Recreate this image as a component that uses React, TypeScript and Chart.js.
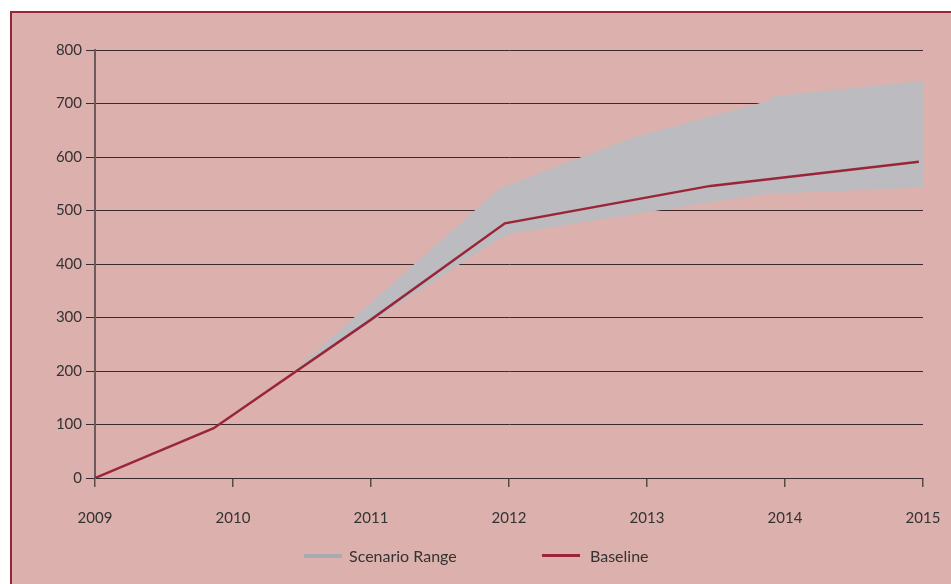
import React, { useEffect, useRef } from 'react';
import { Chart, registerables } from 'chart.js';

Chart.register(...registerables);

const xTickYears = [2009, 2010, 2011, 2012, 2013, 2014, 2015];
const yTickValues = [0, 100, 200, 300, 400, 500, 600, 700, 800];

const baselineYears = [2009, 2009.86, 2011, 2011.97, 2013.46, 2014.97];
const baselineValues = [0, 93, 296, 476, 546, 591];

const rangeYears = [2010.38, 2011.93, 2012.02, 2012.88, 2013.88, 2013.93, 2015.01];
const rangeHigh = [186, 541, 550, 635, 705, 714, 743];
const rangeLow = [186, 448, 457, 492, 532, 532, 543];

const legendLabels = ['Scenario Range', 'Baseline'];

const FONT = 'Lato, "Noto Sans", sans-serif';
const PINK = '#dcb0ac';
const GRAY = '#bcbcc0';
const CRIMSON = '#9b2538';

export default function App() {
  const ref = useRef<HTMLCanvasElement | null>(null);

  useEffect(() => {
    if (!ref.current) return;
    const chart = new Chart(ref.current, {
      type: 'line',
      data: {
        datasets: [
          {
            label: 'low',
            order: 2,
            data: rangeYears.map((x, i) => ({ x, y: rangeLow[i] })),
            borderWidth: 0,
            pointRadius: 0,
            fill: false,
            borderColor: 'rgba(0,0,0,0)',
          },
          {
            label: legendLabels[0],
            order: 1,
            data: rangeYears.map((x, i) => ({ x, y: rangeHigh[i] })),
            borderWidth: 0,
            pointRadius: 0,
            fill: '-1',
            backgroundColor: GRAY,
            borderColor: 'rgba(0,0,0,0)',
          },
          {
            label: legendLabels[1],
            order: 0,
            data: baselineYears.map((x, i) => ({ x, y: baselineValues[i] })),
            borderWidth: 2.5,
            pointRadius: 0,
            fill: false,
            borderColor: CRIMSON,
          },
        ],
      },
      options: {
        animation: false,
        responsive: false,
        maintainAspectRatio: false,
        layout: { padding: { left: 0, right: 28, top: 50, bottom: 0 } },
        plugins: { legend: { display: false }, tooltip: { enabled: false } },
        scales: {
          x: {
            type: 'linear',
            min: 2009,
            max: 2015,
            afterBuildTicks: (s: any) => {
              s.ticks = xTickYears.map((v) => ({ value: v }));
            },
            afterFit: (s: any) => {
              s.height = 106;
              s.paddingLeft = 0;
              s.paddingRight = 0;
            },
            grid: {
              drawOnChartArea: false,
              drawTicks: true,
              tickLength: 9,
              color: '#5c4848',
              lineWidth: 1.5,
            },
            border: { display: true, color: '#3a2c2c', width: 1 },
            ticks: {
              padding: 22,
              color: '#333',
              font: { family: FONT, size: 15 },
              callback: (v: any) => String(v),
              maxRotation: 0,
              autoSkip: false,
            },
          },
          y: {
            type: 'linear',
            min: 0,
            max: 800,
            afterBuildTicks: (s: any) => {
              s.ticks = yTickValues.map((v) => ({ value: v }));
            },
            afterFit: (s: any) => {
              s.width = 95;
              s.paddingTop = 0;
              s.paddingBottom = 0;
            },
            grid: {
              drawTicks: true,
              tickLength: 9,
              color: '#3a2c2c',
              lineWidth: 1,
            },
            border: { display: true, color: '#6e5a5a', width: 2 },
            ticks: {
              padding: 4,
              color: '#333',
              font: { family: FONT, size: 15 },
            },
          },
        },
      },
    });
    return () => chart.destroy();
  }, []);

  const legendText: React.CSSProperties = {
    position: 'absolute',
    top: 546,
    fontFamily: FONT,
    fontSize: 16,
    color: '#333',
    lineHeight: '20px',
    whiteSpace: 'nowrap',
  };

  return (
    <div style={{ position: 'absolute', left: 0, top: 0, width: 951, height: 584, overflow: 'hidden', background: '#fff' }}>
      <div
        style={{
          position: 'absolute',
          left: 10,
          top: 11,
          width: 960,
          height: 600,
          background: PINK,
          border: `2px solid ${CRIMSON}`,
          boxSizing: 'border-box',
        }}
      />
      <canvas ref={ref} width={951} height={584} style={{ position: 'absolute', left: 0, top: 0, width: 951, height: 584 }} />
      <div style={{ position: 'absolute', left: 304, top: 554, width: 38, height: 4, background: '#a9abb1' }} />
      <div style={{ ...legendText, left: 349 }}>{legendLabels[0]}</div>
      <div style={{ position: 'absolute', left: 542, top: 554, width: 38, height: 3, background: CRIMSON }} />
      <div style={{ ...legendText, left: 590 }}>{legendLabels[1]}</div>
    </div>
  );
}
